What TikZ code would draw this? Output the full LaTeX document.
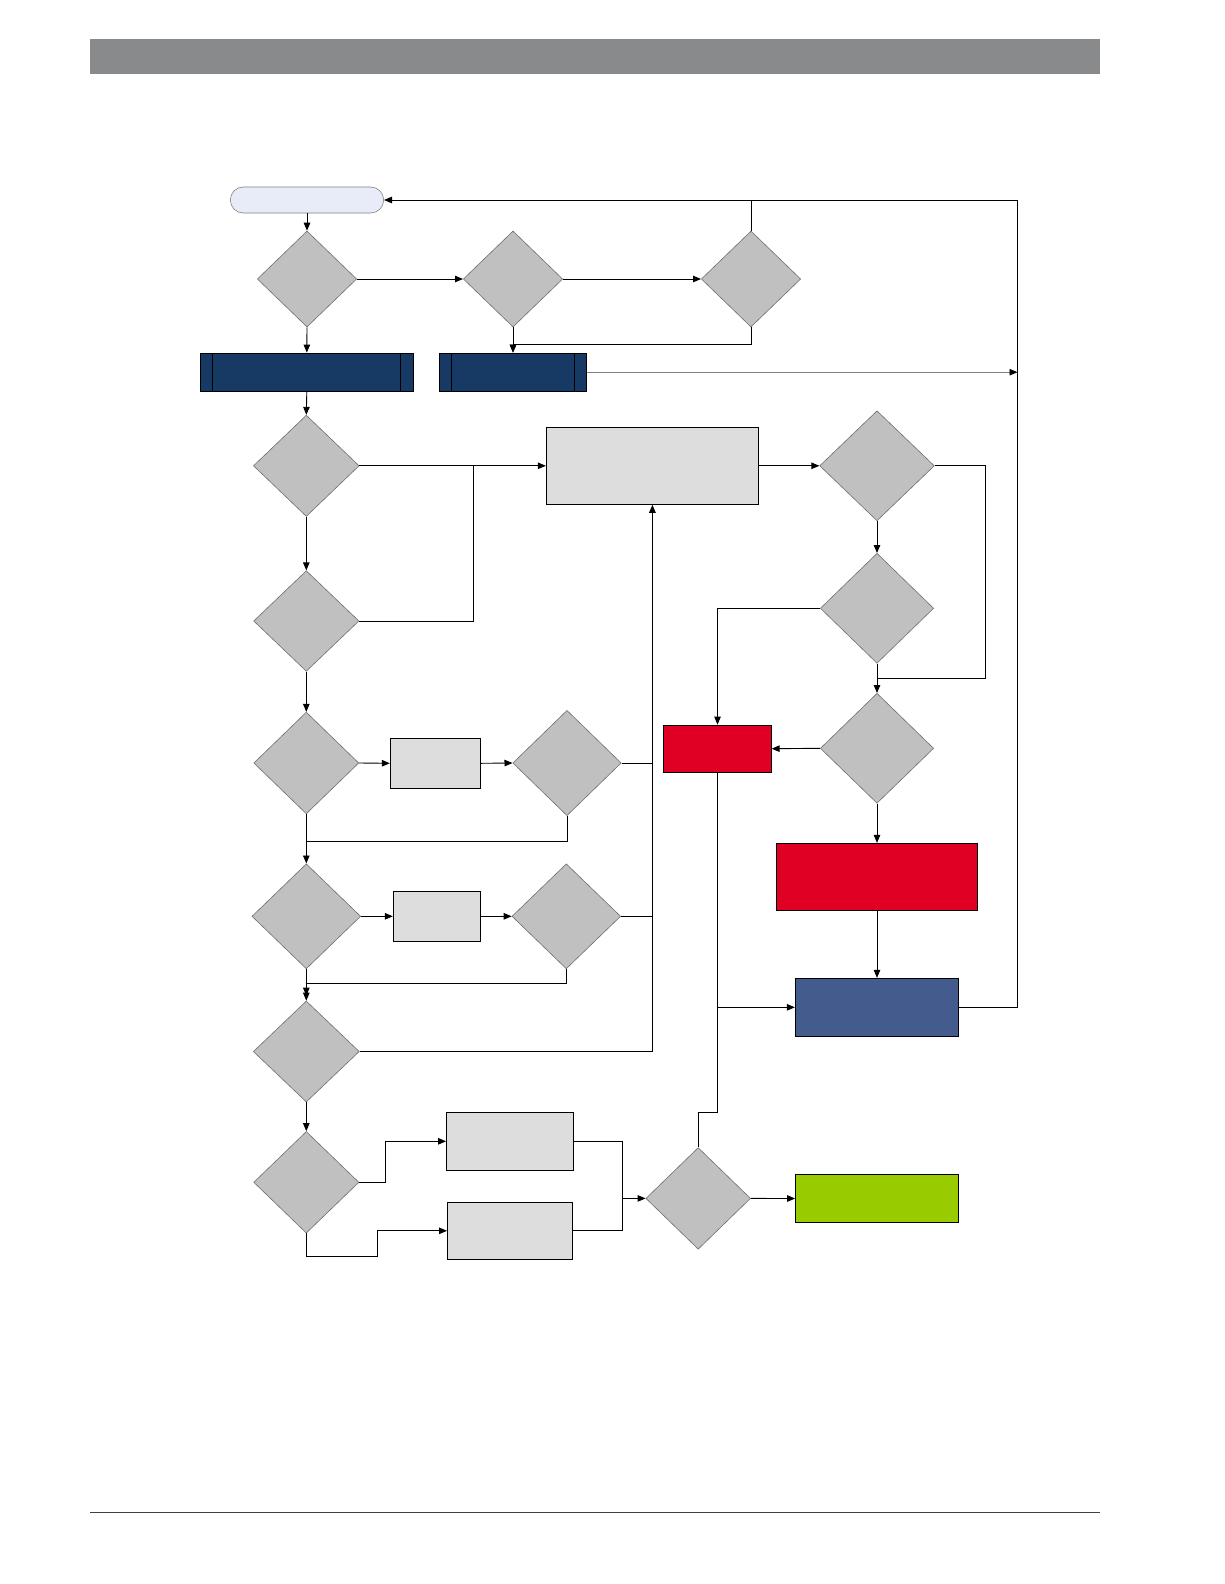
\documentclass[tikz,border=0pt]{standalone}
\usetikzlibrary{shapes.geometric,arrows.meta}
\definecolor{hdr}{HTML}{898A8B}
\definecolor{dgray}{HTML}{C0C0C0}
\definecolor{dborder}{HTML}{6E6E6E}
\definecolor{pgray}{HTML}{DDDDDD}
\definecolor{navy}{HTML}{173A64}
\definecolor{redbox}{HTML}{E00024}
\definecolor{bluebox}{HTML}{445B8D}
\definecolor{greenbox}{HTML}{99CC00}
\definecolor{startfill}{HTML}{E8ECF8}
\begin{document}
\begin{tikzpicture}[x=1pt,y=-1pt,
  dec/.style={diamond, draw=dborder, line width=0.6pt, fill=dgray, inner sep=0pt},
  box/.style={rectangle, draw=black, line width=0.9pt, inner sep=0pt},
  proc/.style={box, fill=pgray},
  conn/.style={draw=black, line width=0.9pt},
  arr/.style={conn, -{Triangle[length=8pt,width=6.5pt,color=black]}}
]
\useasboundingbox (0,0) rectangle (1224,1584);
% page header and footer
\fill[hdr] (90,39.4) rectangle (1100,73.7);
\draw[line width=0.8pt, black!75] (90,1512.8) -- (1100,1512.8);

% nodes
\node[draw=gray, line width=0.6pt, fill=startfill, rounded corners=13pt, minimum width=153.4pt, minimum height=26pt, inner sep=0pt] (start) at (307,200) {};
\node[dec, minimum width=99.4pt, minimum height=96pt] (d1) at (307,279) {};
\node[dec, minimum width=99.4pt, minimum height=96pt] (d2) at (513,279) {};
\node[dec, minimum width=99.4pt, minimum height=96pt] (d3) at (751,279) {};
\node[box, fill=navy, minimum width=213pt, minimum height=38.3pt] (pp1) at (306.8,372.2) {};
\node[box, fill=navy, minimum width=147.4pt, minimum height=38.3pt] (pp2) at (513,372.2) {};
\draw[line width=0.9pt] ([xshift=13pt]pp1.north west) -- ([xshift=13pt]pp1.south west);
\draw[line width=0.9pt] ([xshift=-13pt]pp1.north east) -- ([xshift=-13pt]pp1.south east);
\draw[line width=0.9pt] ([xshift=13pt]pp2.north west) -- ([xshift=13pt]pp2.south west);
\draw[line width=0.9pt] ([xshift=-13pt]pp2.north east) -- ([xshift=-13pt]pp2.south east);

\node[dec, minimum width=105.7pt, minimum height=101.3pt] (d4) at (306.3,465.8) {};
\node[dec, minimum width=105.3pt, minimum height=100.6pt] (d5) at (306.3,621) {};
\node[proc, minimum width=212.2pt, minimum height=77pt] (pr) at (652.4,465.8) {};
\node[dec, minimum width=114.7pt, minimum height=110pt] (d6) at (877,465.8) {};
\node[dec, minimum width=113.3pt, minimum height=110pt] (d7) at (877,608.3) {};
\node[dec, minimum width=113.3pt, minimum height=110pt] (d8) at (877,748.3) {};
\node[box, fill=redbox, minimum width=107.4pt, minimum height=47.3pt] (red1) at (717.5,748.7) {};
\node[box, fill=redbox, minimum width=201.4pt, minimum height=67pt] (red2) at (877,876.8) {};
\node[box, fill=bluebox, minimum width=163.4pt, minimum height=58pt] (blue) at (877,1007.3) {};

\node[dec, minimum width=105pt, minimum height=101.7pt] (d9) at (306.3,763) {};
\node[proc, minimum width=90.4pt, minimum height=50pt] (bA) at (435.5,763.3) {};
\node[dec, minimum width=108.4pt, minimum height=105.3pt] (d10) at (567,763) {};
\node[dec, minimum width=108.7pt, minimum height=105pt] (d11) at (306.3,916.3) {};
\node[proc, minimum width=87.4pt, minimum height=50pt] (bB) at (437,916.3) {};
\node[dec, minimum width=108.7pt, minimum height=105pt] (d12) at (566.3,916.3) {};
\node[dec, minimum width=106pt, minimum height=101pt] (d13) at (306.3,1051.5) {};
\node[dec, minimum width=105.2pt, minimum height=101.6pt] (d14) at (306.3,1182.3) {};
\node[proc, minimum width=127pt, minimum height=58pt] (bC) at (510,1141.3) {};
\node[proc, minimum width=125pt, minimum height=57pt] (bD) at (510,1230.8) {};
\node[dec, minimum width=104.7pt, minimum height=101.6pt] (d15) at (698.2,1198.4) {};
\node[box, fill=greenbox, minimum width=162.8pt, minimum height=48.4pt] (green) at (877,1198.5) {};

% helper coordinates
\coordinate (tr) at (1017.5,200);
\coordinate (rb) at (1017.5,1007.3);
\coordinate (j1) at (473.3,465.8);
\coordinate (j2) at (877,678.3);
\coordinate (j3) at (985.3,678.3);
\coordinate (j4) at (652.4,763);
\coordinate (j5) at (652.4,916.3);
\coordinate (j6) at (306.3,841.3);
\coordinate (j7) at (306.3,983.3);
\coordinate (j8) at (717.5,1112.3);
\coordinate (j9) at (385.4,1182.3);
\coordinate (j10) at (377.7,1256);
\coordinate (j11) at (622.5,1198.4);

% connectors
\draw[arr] (start.south) -- (d1.north);
\draw[arr] (d1.east) -- (d2.west);
\draw[arr] (d2.east) -- (d3.west);
\draw[arr] (d1.south) -- (pp1.north);
\draw[arr] (d2.south) -- (pp2.north);
\draw[arr] (d3.south) -- ++(0,17) -| (pp2.north);
\draw[conn] (d3.north) -- (d3.north |- tr);
\draw[arr] (blue.east) -- (rb) -- (tr) -- (start.east);
\draw[draw=gray, line width=0.9pt, -{Triangle[length=8pt,width=6.5pt,color=black]}] (pp2.east) -- (pp2.east -| tr);

\draw[arr] (pp1.south) -- (d4.north);
\draw[arr] (d4.east) -- (pr.west);
\draw[conn] (d5.east) -| (j1);
\draw[arr] (d4.south) -- (d5.north);
\draw[arr] (d5.south) -- (d9.north);
\draw[arr] (pr.east) -- (d6.west);
\draw[arr] (d6.south) -- (d7.north);
\draw[conn] (d6.east) -| (j3) -- (j2);
\draw[arr] (d7.south) -- (d8.north);
\draw[arr] (d7.west) -| (red1.north);
\draw[arr] (d8.west) -- (red1.east);
\draw[arr] (d8.south) -- (red2.north);
\draw[arr] (red2.south) -- (blue.north);
\draw[conn] (red1.south) -- (j8) -| (d15.north);
\draw[arr] (red1.south |- blue.west) -- (blue.west);

\draw[arr] (d9.east) -- (bA.west);
\draw[arr] (bA.east) -- (d10.west);
\draw[conn] (d10.east) -- (j4);
\draw[conn] (d10.south) |- (j6);
\draw[arr] (d9.south) -- (d11.north);
\draw[arr] (d11.east) -- (bB.west);
\draw[arr] (bB.east) -- (d12.west);
\draw[conn] (d12.east) -- (j5);
\draw[arr] (d12.south) |- (j7) -- ([yshift=5pt]d13.north);
\draw[arr] (d11.south) -- (d13.north);
\draw[arr] (d13.east) -| (pr.south);
\draw[arr] (d13.south) -- (d14.north);
\draw[arr] (d14.east) -- (j9) |- (bC.west);
\draw[arr] (d14.south) |- (j10) |- (bD.west);
\draw[conn] (bC.east) -| (j11);
\draw[conn] (bD.east) -| (j11);
\draw[arr] (j11) -- (d15.west);
\draw[arr] (d15.east) -- (green.west);
\end{tikzpicture}
\end{document}
